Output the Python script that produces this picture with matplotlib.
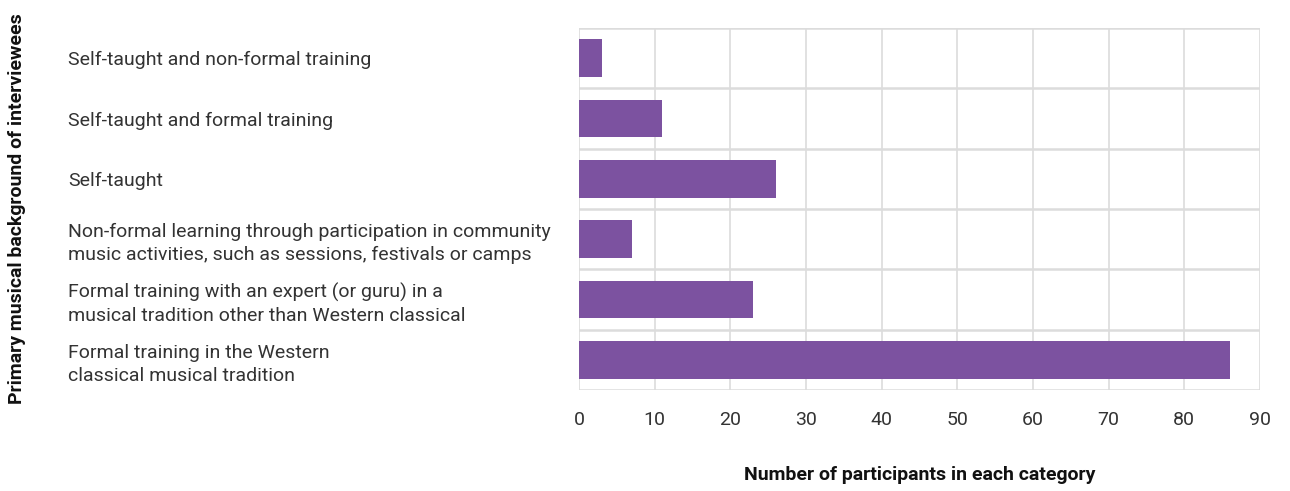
import matplotlib
matplotlib.use("Agg")
from matplotlib import pyplot as plt

# categories top to bottom, as in the picture
categories = [
    "Self-taught and non-formal training",
    "Self-taught and formal training",
    "Self-taught",
    "Non-formal learning through participation in community\nmusic activities, such as sessions, festivals or camps",
    "Formal training with an expert (or guru) in a\nmusical tradition other than Western classical",
    "Formal training in the Western\nclassical musical tradition",
]
participants = [3, 11, 26, 7, 23, 86]
x_ticks = [0, 10, 20, 30, 40, 50, 60, 70, 80, 90]

plt.rcParams["font.family"] = ["Roboto", "DejaVu Sans"]

fig = plt.figure(figsize=(12.9, 4.91), dpi=100)
ax = fig.add_axes([579 / 1290, 1 - 390 / 491, (1260 - 579) / 1290, (390 - 28) / 491])

ypos = list(range(len(categories)))
ax.barh(ypos, participants, height=0.62, color="#7C52A0", zorder=3)
ax.set_ylim(len(categories) - 0.5, -0.5)
ax.set_xlim(0, 90)

# grid: vertical at ticks, horizontal between categories
ax.set_xticks(x_ticks)
ax.set_xticklabels([str(t) for t in x_ticks], fontsize=14, color="#333333")
ax.set_yticks([i + 0.5 for i in range(-1, len(categories))], minor=True)
ax.grid(True, axis="x", color="#dcdcdc", linewidth=1.2, zorder=0)
ax.grid(True, axis="y", which="minor", color="#dcdcdc", linewidth=1.8, zorder=0)
ax.set_yticks(ypos)
ax.set_yticklabels(categories, fontsize=14, color="#333333", ha="left",
                   linespacing=1.35)
ax.tick_params(axis="y", which="both", length=0, pad=368)
ax.tick_params(axis="x", length=0, pad=15)
for s in ax.spines.values():
    s.set_visible(False)

fig.text(920 / 1290, 1 - 475 / 491, "Number of participants in each category",
         ha="center", va="center", fontsize=14, fontweight="bold", color="#111111")
fig.text(17 / 1290, 1 - 209 / 491, "Primary musical background of interviewees",
         ha="center", va="center", rotation=90, fontsize=14, fontweight="bold", color="#111111")

fig.savefig("out.png", dpi=100)
